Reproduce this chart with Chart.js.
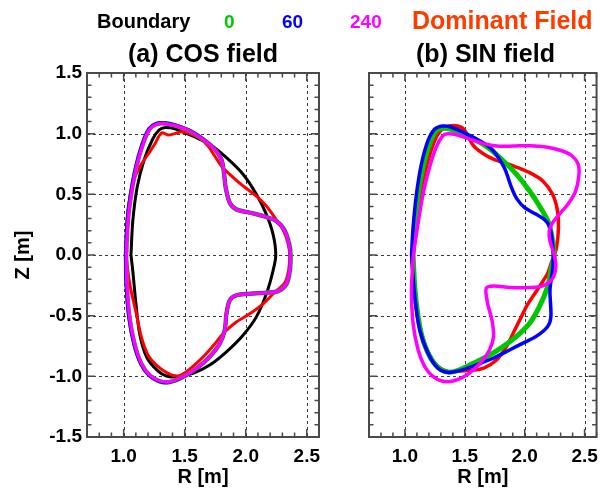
<!DOCTYPE html>
<html><head><meta charset="utf-8">
<script src="https://cdn.jsdelivr.net/npm/chart.js@4.4.1/dist/chart.umd.min.js"></script>
<style>
html,body{margin:0;padding:0;background:#fff;}
#wrap{position:relative;width:606px;height:491px;overflow:hidden;font-family:"Liberation Sans",Arial,Helvetica,sans-serif;}
canvas{position:absolute;top:0;}
.t{position:absolute;white-space:nowrap;font-weight:bold;z-index:2;}
</style></head><body>
<div id="wrap">
<canvas id="cA" width="330" height="491" style="left:0px"></canvas>
<canvas id="cB" width="276" height="491" style="left:330px"></canvas>
<div class="t" style="left:97px;top:11px;font-size:20px;line-height:20px;color:#000">Boundary</div>
<div class="t" style="left:224px;top:12px;font-size:19px;line-height:19px;color:#00c800">0</div>
<div class="t" style="left:282px;top:12px;font-size:19px;line-height:19px;color:#0000ff">60</div>
<div class="t" style="left:350px;top:12px;font-size:19px;line-height:19px;color:#ff00ff">240</div>
<div class="t" style="left:412px;top:8px;font-size:25px;line-height:25px;color:#ff3c00">Dominant Field</div>
<div class="t" style="left:87px;width:232px;text-align:center;top:41px;font-size:25px;line-height:25px;color:#000">(a) COS field</div>
<div class="t" style="left:369px;width:233px;text-align:center;top:41px;font-size:25px;line-height:25px;color:#000">(b) SIN field</div>
</div>
<script>
// ---------- axes ----------
const rangeR = [0.7, 2.6];
const rangeZ = [-1.5, 1.5];
const majorR = [1.0, 1.5, 2.0, 2.5];
const majorZ = [-1.5, -1.0, -0.5, 0.0, 0.5, 1.0, 1.5];
const seriesNames = ['Boundary', '0', '60', '240', 'Dominant Field'];

// ---------- (a) COS field ----------
const cosBoundaryR = [1.06,1.075,1.11,1.165,1.235,1.29,1.34,1.42,1.5,1.6,1.705,1.842,1.978,2.087,2.169,2.224,2.246,2.224,2.169,2.087,1.978,1.842,1.705,1.568,1.432,1.35,1.28,1.19,1.131,1.098,1.075,1.06];
const cosBoundaryZ = [0.0,0.28,0.555,0.775,0.95,1.03,1.05,1.04,1.008,0.965,0.912,0.802,0.665,0.5,0.335,0.17,0.0,-0.128,-0.32,-0.51,-0.661,-0.798,-0.907,-0.975,-1.003,-0.997,-0.955,-0.845,-0.648,-0.374,-0.13,0.0];

const cos0R = [1.02,1.034,1.061,1.102,1.156,1.211,1.267,1.336,1.432,1.541,1.65,1.746,1.8,1.82,1.836,1.869,1.923,2.033,2.142,2.251,2.322,2.357,2.368,2.362,2.335,2.266,2.169,2.033,1.923,1.869,1.842,1.828,1.787,1.705,1.596,1.486,1.377,1.294,1.211,1.143,1.088,1.047,1.025,1.02];
const cos0Z = [0.0,0.28,0.5,0.72,0.912,1.038,1.079,1.085,1.065,1.023,0.954,0.872,0.788,0.692,0.555,0.431,0.376,0.349,0.321,0.28,0.198,0.088,0.0,-0.128,-0.238,-0.298,-0.311,-0.32,-0.333,-0.374,-0.484,-0.62,-0.73,-0.839,-0.935,-1.005,-1.047,-1.041,-0.991,-0.894,-0.73,-0.511,-0.238,0.0];

const cos60R = [1.016,1.03,1.057,1.098,1.152,1.208,1.265,1.335,1.432,1.541,1.651,1.747,1.8,1.82,1.836,1.869,1.923,2.033,2.142,2.251,2.32,2.355,2.366,2.36,2.333,2.265,2.169,2.033,1.923,1.869,1.842,1.828,1.787,1.705,1.596,1.486,1.377,1.292,1.208,1.14,1.084,1.043,1.021,1.016];
const cos60Z = [0.0,0.28,0.5,0.72,0.914,1.041,1.083,1.088,1.068,1.025,0.955,0.872,0.789,0.692,0.555,0.431,0.376,0.349,0.321,0.28,0.198,0.088,0.0,-0.128,-0.238,-0.298,-0.311,-0.32,-0.333,-0.374,-0.484,-0.62,-0.73,-0.839,-0.936,-1.006,-1.048,-1.042,-0.992,-0.895,-0.731,-0.511,-0.238,0.0];

const cos240R = [1.022,1.036,1.063,1.104,1.158,1.213,1.268,1.336,1.432,1.541,1.65,1.746,1.8,1.82,1.836,1.869,1.923,2.033,2.142,2.251,2.32,2.355,2.366,2.36,2.333,2.265,2.169,2.033,1.923,1.869,1.842,1.828,1.787,1.705,1.596,1.486,1.377,1.295,1.213,1.145,1.09,1.049,1.027,1.022];
const cos240Z = [0.0,0.28,0.5,0.72,0.912,1.036,1.077,1.082,1.063,1.022,0.953,0.871,0.788,0.692,0.555,0.431,0.376,0.349,0.321,0.28,0.198,0.088,0.0,-0.128,-0.238,-0.298,-0.311,-0.32,-0.333,-0.374,-0.484,-0.62,-0.73,-0.839,-0.934,-1.003,-1.044,-1.038,-0.989,-0.893,-0.73,-0.511,-0.238,0.0];

const cosDomR = [1.02,1.027,1.055,1.09,1.145,1.2,1.254,1.29,1.317,1.363,1.418,1.473,1.541,1.623,1.691,1.746,1.8,1.869,1.978,2.087,2.169,2.238,2.3,2.345,2.36,2.352,2.32,2.238,2.142,2.033,1.923,1.828,1.76,1.678,1.596,1.514,1.445,1.363,1.268,1.2,1.145,1.104,1.05,1.02];
const cosDomZ = [0.0,0.28,0.5,0.637,0.747,0.83,0.912,0.981,1.008,0.989,1.0,1.016,1.0,0.962,0.898,0.816,0.734,0.665,0.569,0.486,0.404,0.308,0.22,0.1,0.0,-0.12,-0.23,-0.306,-0.402,-0.484,-0.552,-0.634,-0.716,-0.811,-0.893,-0.962,-0.997,-0.975,-0.907,-0.825,-0.675,-0.484,-0.238,0.0];

// ---------- (b) SIN field ----------
const sin0R = [1.068,1.082,1.11,1.151,1.205,1.26,1.315,1.384,1.493,1.603,1.712,1.822,1.932,2.041,2.123,2.2,2.233,2.247,2.219,2.192,2.123,2.041,1.932,1.822,1.712,1.603,1.493,1.384,1.301,1.219,1.151,1.11,1.082,1.068];
const sin0Z = [0.0,0.225,0.5,0.72,0.912,1.022,1.044,1.036,0.995,0.94,0.871,0.775,0.665,0.527,0.404,0.266,0.115,0.0,-0.123,-0.26,-0.425,-0.562,-0.671,-0.753,-0.822,-0.877,-0.93,-0.965,-0.945,-0.856,-0.7,-0.507,-0.26,0.0];

const sin60R = [1.055,1.068,1.096,1.137,1.192,1.247,1.315,1.384,1.493,1.603,1.712,1.781,1.836,1.89,1.932,2.0,2.096,2.164,2.205,2.227,2.238,2.233,2.211,2.219,2.192,2.096,1.986,1.877,1.74,1.603,1.466,1.356,1.274,1.192,1.123,1.082,1.055];
const sin60Z = [0.0,0.225,0.5,0.747,0.94,1.036,1.063,1.055,1.008,0.953,0.885,0.802,0.706,0.555,0.467,0.39,0.335,0.294,0.239,0.143,0.0,-0.123,-0.288,-0.507,-0.589,-0.671,-0.726,-0.781,-0.849,-0.904,-0.951,-0.967,-0.932,-0.808,-0.616,-0.342,0.0];

const sin240R = [1.07,1.104,1.151,1.205,1.26,1.315,1.356,1.438,1.548,1.658,1.767,1.904,2.041,2.178,2.315,2.397,2.447,2.452,2.425,2.37,2.301,2.233,2.205,2.211,2.247,2.26,2.233,2.151,2.041,1.877,1.74,1.679,1.69,1.726,1.74,1.707,1.63,1.521,1.411,1.315,1.233,1.164,1.11,1.068,1.055,1.07];
const sin240Z = [0.0,0.225,0.5,0.72,0.885,0.981,1.0,0.989,0.953,0.918,0.898,0.898,0.901,0.89,0.857,0.816,0.747,0.651,0.527,0.431,0.349,0.266,0.198,0.115,0.0,-0.096,-0.192,-0.255,-0.268,-0.268,-0.255,-0.274,-0.397,-0.534,-0.671,-0.781,-0.89,-0.986,-1.036,-1.041,-1.0,-0.918,-0.781,-0.562,-0.288,0.0];

const sinDomR = [1.058,1.09,1.137,1.192,1.247,1.301,1.37,1.438,1.493,1.575,1.685,1.767,1.904,2.041,2.151,2.233,2.274,2.282,2.266,2.247,2.22,2.192,2.123,2.068,2.014,1.973,1.918,1.849,1.767,1.658,1.548,1.438,1.356,1.274,1.205,1.137,1.088,1.065,1.058];
const sinDomZ = [0.0,0.28,0.555,0.775,0.94,1.027,1.063,1.063,1.036,0.898,0.816,0.78,0.734,0.679,0.61,0.5,0.363,0.225,0.06,0.0,-0.07,-0.151,-0.26,-0.342,-0.425,-0.507,-0.616,-0.753,-0.863,-0.932,-0.951,-0.959,-0.959,-0.918,-0.822,-0.644,-0.397,-0.123,0.0];

// ---------- helpers ----------
const FONT = '"Liberation Sans", Arial, Helvetica, sans-serif';
const COLORS = {Boundary:'#000000', '0':'#00c800', '60':'#0000ff', '240':'#ff00ff', 'Dominant Field':'#ff0000'};
function pts(R, Z) { return R.map((r, i) => ({x: r, y: Z[i]})); }
function ds(name, R, Z, width, order) {
  return {label: name, data: pts(R, Z), showLine: true, borderColor: COLORS[name], backgroundColor: COLORS[name],
          borderWidth: width, pointRadius: 0, fill: false, tension: 0.3, order: order,
          borderJoinStyle: 'round', borderCapStyle: 'round'};
}

const frameTicks = {
  id: 'frameTicks',
  beforeDatasetsDraw(chart) {
    const {ctx, chartArea: a, scales: {x, y}} = chart;
    ctx.save();
    ctx.strokeStyle = '#3a3a3a'; ctx.lineWidth = 1; ctx.setLineDash([3, 3]);
    majorR.forEach(v => {
      const px = Math.round(x.getPixelForValue(v)) + 0.5;
      ctx.beginPath(); ctx.moveTo(px, a.top); ctx.lineTo(px, a.bottom); ctx.stroke();
    });
    majorZ.forEach(v => {
      const py = Math.round(y.getPixelForValue(v)) + 0.5;
      ctx.beginPath(); ctx.moveTo(a.left, py); ctx.lineTo(a.right, py); ctx.stroke();
    });
    ctx.restore();
  },
  afterDatasetsDraw(chart) {
    const {ctx, chartArea: a, scales: {x, y}} = chart;
    ctx.save();
    ctx.setLineDash([]);
    ctx.strokeStyle = '#4a4a4a'; ctx.lineWidth = 1.5;
    for (let i = 7; i <= 26; i++) {
      const v = i / 10; const px = x.getPixelForValue(v);
      const len = majorR.includes(v) ? 8 : 4.5;
      ctx.beginPath();
      ctx.moveTo(px, a.bottom); ctx.lineTo(px, a.bottom - len);
      ctx.moveTo(px, a.top); ctx.lineTo(px, a.top + len);
      ctx.stroke();
    }
    for (let i = -15; i <= 15; i++) {
      const v = i / 10; const py = y.getPixelForValue(v);
      const len = majorZ.includes(v) ? 8 : 4.5;
      ctx.beginPath();
      ctx.moveTo(a.left, py); ctx.lineTo(a.left + len, py);
      ctx.moveTo(a.right, py); ctx.lineTo(a.right - len, py);
      ctx.stroke();
    }
    ctx.lineWidth = 2;
    ctx.strokeRect(a.left, a.top, a.right - a.left, a.bottom - a.top);
    ctx.restore();
  }
};

function makeChart(id, datasets, showY, yWidth, padRight) {
  return new Chart(document.getElementById(id), {
    type: 'scatter',
    data: {datasets},
    options: {
      responsive: false, animation: false, devicePixelRatio: 1,
      layout: {padding: {top: 73, right: padRight, bottom: 0, left: 0}},
      plugins: {legend: {display: false}, tooltip: {enabled: false}},
      scales: {
        x: {
          type: 'linear', min: rangeR[0], max: rangeR[1],
          afterBuildTicks: s => { s.ticks = majorR.map(v => ({value: v})); },
          afterFit: s => { s.height = 54; },
          grid: {display: false, drawTicks: false}, border: {display: false},
          ticks: {color: '#000', font: {family: FONT, size: 19, weight: 'bold'}, padding: 8,
                  maxRotation: 0, autoSkip: false, callback: v => Number(v).toFixed(1)},
          title: {display: true, text: 'R [m]', color: '#000', font: {family: FONT, size: 20, weight: 'bold'},
                  padding: {top: 0, bottom: 2}}
        },
        y: {
          type: 'linear', min: rangeZ[0], max: rangeZ[1],
          afterBuildTicks: s => { s.ticks = majorZ.map(v => ({value: v})); },
          afterFit: s => { s.width = yWidth; },
          grid: {display: false, drawTicks: false}, border: {display: false},
          ticks: {display: showY, color: '#000', font: {family: FONT, size: 19, weight: 'bold'}, padding: 5,
                  autoSkip: false, callback: v => Number(v).toFixed(1)},
          title: {display: showY, text: 'Z [m]', color: '#000', font: {family: FONT, size: 20, weight: 'bold'},
                  padding: {top: 11, bottom: 0}}
        }
      }
    },
    plugins: [frameTicks]
  });
}

makeChart('cA', [
  ds('Boundary', cosBoundaryR, cosBoundaryZ, 3, 4),
  ds('Dominant Field', cosDomR, cosDomZ, 3, 3),
  ds('0', cos0R, cos0Z, 4.5, 2),
  ds('60', cos60R, cos60Z, 3.5, 1),
  ds('240', cos240R, cos240Z, 3.5, 0)
], true, 87, 11);

makeChart('cB', [
  ds('Dominant Field', sinDomR, sinDomZ, 3.5, 3),
  ds('0', sin0R, sin0Z, 5, 2),
  ds('60', sin60R, sin60Z, 3.5, 1),
  ds('240', sin240R, sin240Z, 3.5, 0)
], false, 39, 4);
</script>
</body></html>
